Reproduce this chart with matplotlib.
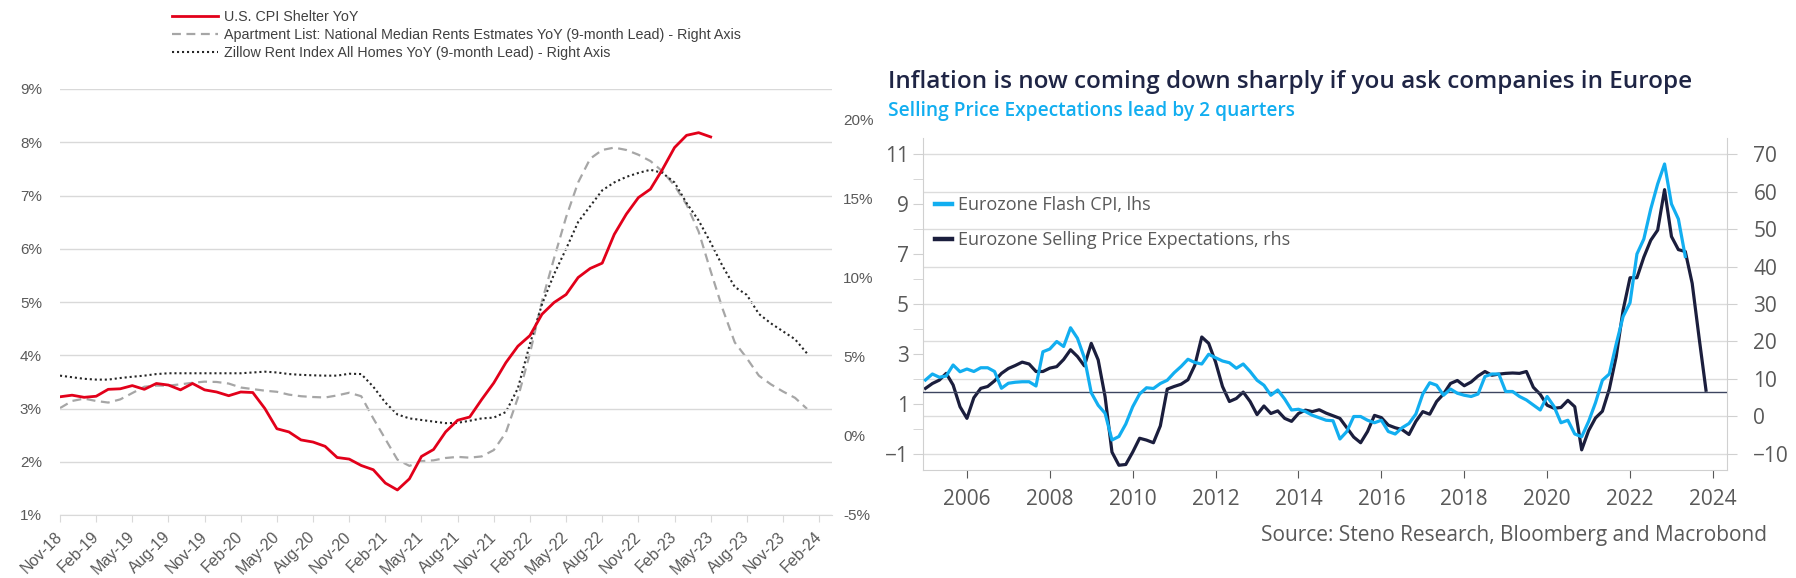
import matplotlib.pyplot as plt
import matplotlib.ticker as mticker
import numpy as np
import pandas as pd

# ---------------- left panel: US shelter CPI vs rent indices (monthly from Nov-18)
cpi_shelter = [3.22, 3.25, 3.21, 3.23, 3.36, 3.37, 3.43, 3.36, 3.47, 3.44, 3.35, 3.47,
               3.35, 3.31, 3.24, 3.31, 3.30, 3.00, 2.62, 2.56, 2.41, 2.37, 2.29, 2.08,
               2.05, 1.93, 1.85, 1.60, 1.47, 1.68, 2.10, 2.23, 2.56, 2.78, 2.84, 3.17,
               3.48, 3.86, 4.17, 4.37, 4.77, 4.99, 5.14, 5.46, 5.63, 5.73, 6.27, 6.65,
               6.96, 7.12, 7.49, 7.90, 8.13, 8.18, 8.10]
apartment_list = [1.75, 2.2, 2.35, 2.2, 2.1, 2.3, 2.7, 3.1, 3.17, 3.17, 3.25, 3.35,
                  3.42, 3.4, 3.3, 3.05, 2.95, 2.85, 2.78, 2.6, 2.5, 2.45, 2.42, 2.55,
                  2.72, 2.5, 1.1, -0.2, -1.5, -1.9, -1.6, -1.55, -1.4, -1.33, -1.38, -1.3,
                  -0.9, 0.2, 2.4, 5.2, 8.5, 11.2, 13.8, 16.0, 17.5, 18.05, 18.2, 18.05,
                  17.75, 17.35, 16.7, 15.8, 14.6, 12.9, 10.4, 8.0, 5.9, 4.9, 3.8, 3.25,
                  2.8, 2.4, 1.7]
zillow = [3.8, 3.7, 3.6, 3.55, 3.55, 3.65, 3.73, 3.8, 3.9, 3.95, 3.95, 3.95,
          3.95, 3.95, 3.95, 3.95, 4.0, 4.05, 4.0, 3.9, 3.85, 3.82, 3.8, 3.8,
          3.92, 3.9, 3.1, 2.1, 1.35, 1.1, 1.0, 0.9, 0.8, 0.82, 0.95, 1.1,
          1.15, 1.5, 3.0, 5.8, 8.3, 10.2, 11.8, 13.5, 14.5, 15.5, 16.0, 16.35,
          16.6, 16.8, 16.6, 16.0, 14.7, 13.6, 12.2, 10.7, 9.4, 8.9, 7.7, 7.1,
          6.6, 6.1, 5.2]
month_labels = pd.date_range("2018-11-01", "2024-02-01", freq="3MS").strftime("%b-%y")
left_pct_ticks = np.arange(1, 10)
right_pct_ticks = np.arange(-5, 21, 5)

# ---------------- right panel: Eurozone (bi-monthly from Jan 2005)
ez_cpi = [1.96, 2.2, 2.07, 2.12, 2.56, 2.29,
          2.4, 2.3, 2.45, 2.45, 2.3, 1.63,
          1.83, 1.87, 1.89, 1.89, 1.72, 3.09,
          3.2, 3.5, 3.3, 4.05, 3.63, 2.85,
          1.45, 0.95, 0.63, -0.44, -0.3, 0.2,
          0.89, 1.4, 1.65, 1.62, 1.82, 1.95,
          2.25, 2.5, 2.79, 2.66, 2.6, 2.99,
          2.85, 2.72, 2.65, 2.43, 2.6, 2.3,
          1.95, 1.75, 1.35, 1.56, 1.2, 0.76,
          0.79, 0.7, 0.55, 0.45, 0.35, 0.33,
          -0.4, -0.1, 0.5, 0.5, 0.35, 0.25,
          0.35, -0.1, -0.2, 0.05, 0.22, 0.6,
          1.4, 1.85, 1.75, 1.35, 1.6, 1.43,
          1.35, 1.3, 1.4, 2.1, 2.2, 2.2,
          1.5, 1.5, 1.3, 1.16, 0.96, 0.76,
          1.3, 0.9, 0.25, 0.35, -0.2, -0.31,
          0.3, 1.05, 1.95, 2.2, 3.4, 4.5,
          5.05, 7.0, 7.6, 8.8, 9.8, 10.6,
          9.0, 8.4, 6.9]
ez_spe = [7.5, 8.8, 9.7, 11.5, 8.4, 2.6,
          -0.5, 5.0, 7.5, 8.0, 9.5, 11.5,
          12.8, 13.6, 14.5, 14.0, 12.0, 12.0,
          12.9, 13.3, 15.2, 17.8, 16.0, 13.5,
          19.5, 15.1, 5.3, -9.5, -13.0, -12.8,
          -9.5, -5.8, -6.3, -7.0, -2.5, 7.3,
          8.0, 8.6, 9.8, 13.7, 21.2, 19.5,
          14.5, 8.0, 4.0, 4.8, 6.5, 4.0,
          0.5, 2.8, 0.8, 1.5, -0.5, -1.3,
          0.8, 1.7, 1.3, 1.8, 0.9, 0.2,
          -0.5, -3.0, -5.5, -7.0, -4.0, 0.3,
          -0.3, -2.3, -3.0, -3.5, -4.8, -1.3,
          1.3, 0.6, 4.0, 6.0, 8.8, 9.6,
          8.2, 9.2, 10.8, 12.0, 11.0, 11.3,
          11.5, 11.6, 11.5, 12.0, 7.8, 5.9,
          3.0, 2.2, 2.4, 4.3, 2.6, -8.9,
          -3.8, -0.4, 1.4, 7.3, 16.0, 28.4,
          37.0, 37.0, 42.5, 47.0, 49.7, 60.5,
          48.0, 44.5, 44.0, 35.5, 21.0, 7.0]
ref_level = 1.49  # horizontal reference line, lhs units
year_ticks = np.arange(2006, 2025, 2)

W, H = 1796, 578
fig = plt.figure(figsize=(W / 100, H / 100), dpi=100, facecolor="white")

narrow = ["Liberation Sans Narrow", "Liberation Sans", "DejaVu Sans"]
grey_txt = "#595959"

# ================= left chart =================
axl_r = fig.add_axes([60 / W, 1 - 515 / H, 772 / W, 426 / H])
axl = axl_r.twinx()
axl.yaxis.tick_left()
axl_r.yaxis.tick_right()

m_long = np.arange(len(zillow))
m_red = np.arange(len(cpi_shelter))
ln_apt, = axl_r.plot(m_long, apartment_list, color="#a6a6a6", lw=1.6,
                     dashes=(4, 2.5), label="Apartment List: National Median Rents Estmates YoY (9-month Lead) - Right Axis")
ln_zil, = axl_r.plot(m_long, zillow, color="#262626", lw=1.5, dashes=(1, 1.4),
                     label="Zillow Rent Index All Homes YoY (9-month Lead) - Right Axis")
ln_red, = axl.plot(m_red, cpi_shelter, color="#e2001a", lw=2.0, label="U.S. CPI Shelter YoY")

axl_r.set_xlim(0, 64.07)
axl.set_ylim(1, 9)
axl_r.set_ylim(-5, 21.9)
axl.set_yticks(left_pct_ticks)
axl.yaxis.set_major_formatter(mticker.FuncFormatter(lambda v, p: f"{v:.0f}%"))
axl_r.set_yticks(right_pct_ticks)
axl_r.yaxis.set_major_formatter(mticker.FuncFormatter(lambda v, p: f"{v:.0f}%"))
axl.grid(axis="y", color="#d9d9d9", lw=1)
axl.set_axisbelow(True)

axl_r.set_xticks(np.arange(0, 64, 3))
axl_r.set_xticklabels(month_labels, rotation=45, ha="right", va="center",
                      rotation_mode="anchor", family=narrow, fontsize=11.5, color=grey_txt)
axl_r.tick_params(axis="x", length=5, color="#d9d9d9", pad=9)
axl.tick_params(axis="y", length=0, pad=13, labelcolor=grey_txt)
axl_r.tick_params(axis="y", length=0, pad=8, labelcolor=grey_txt)
for lab in axl.get_yticklabels() + axl_r.get_yticklabels():
    lab.set_family(narrow)
    lab.set_fontsize(11)
for a in (axl, axl_r):
    for s in a.spines.values():
        s.set_visible(False)
axl_r.spines["bottom"].set_visible(True)
axl_r.spines["bottom"].set_color("#d9d9d9")

fig.legend(handles=[ln_red, ln_apt, ln_zil], loc="upper left",
           bbox_to_anchor=(172 / W, 1 - 10 / H), frameon=False, borderpad=0,
           borderaxespad=0, handlelength=3.2, handletextpad=0.45, labelspacing=0.28,
           prop={"family": narrow, "size": 10.3}, labelcolor="#404040")

# ================= right chart =================
sans = ["Open Sans", "DejaVu Sans"]
axr_r = fig.add_axes([923 / W, 1 - 470 / H, 804 / W, 332 / H])
axr = axr_r.twinx()
axr.yaxis.tick_left()
axr_r.yaxis.tick_right()

t_cpi = 2005 + np.arange(len(ez_cpi)) / 6
t_spe = 2005 + np.arange(len(ez_spe)) / 6
ln_spe, = axr_r.plot(t_spe, ez_spe, color="#1b1e3d", lw=2.3,
                     label="Eurozone Selling Price Expectations, rhs")
axr.axhline(ref_level, color="#3d4560", lw=1.0, zorder=1)
ln_cpi, = axr.plot(t_cpi, ez_cpi, color="#12aef0", lw=2.3, label="Eurozone Flash CPI, lhs")

axr_r.set_xlim(2004.94, 2024.34)
axr_r.set_ylim(-14.27, 74.27)
axr.set_ylim(-1.64, 11.64)
axr_r.set_yticks(np.arange(-10, 71, 10))
axr.set_yticks(np.arange(-1, 12, 2))
axr.set_yticks(np.arange(0, 11, 2), minor=True)
axr_r.set_xticks(year_ticks)
axr_r.grid(axis="y", color="#dcdcdc", lw=1)
axr_r.set_axisbelow(True)

axr_r.tick_params(axis="x", length=6, color="#595959", pad=8, labelsize=15, labelcolor=grey_txt)
axr_r.tick_params(axis="y", length=7, color="#d0d0d0", pad=12, labelsize=15, labelcolor=grey_txt)
axr.tick_params(axis="y", which="both", length=7, color="#d0d0d0", pad=3,
                labelsize=15, labelcolor=grey_txt)
for lab in axr_r.get_xticklabels() + axr_r.get_yticklabels() + axr.get_yticklabels():
    lab.set_family(sans)
for s in axr.spines.values():
    s.set_visible(False)
axr_r.spines["top"].set_visible(False)
for k in ("left", "right", "bottom"):
    axr_r.spines[k].set_color("#d0d0d0")

leg = fig.legend(handles=[ln_cpi, ln_spe], loc="upper left", bbox_to_anchor=(935 / W, 1 - 196 / H),
                 frameon=False, borderpad=0, borderaxespad=0, handlelength=0.95,
                 handletextpad=0.3, labelspacing=0.95, prop={"family": sans, "size": 13},
                 labelcolor=grey_txt)
for hl in leg.get_lines():
    hl.set_linewidth(3.2)

fig.text(888 / W, 1 - 82 / H, "Inflation is now coming down sharply if you ask companies in Europe",
         family=sans, fontsize=17.5, fontweight="semibold", color="#1f2545", va="center")
fig.text(888 / W, 1 - 111 / H, "Selling Price Expectations lead by 2 quarters",
         family=sans, fontsize=13.8, fontweight="semibold", color="#12aef0", va="center")
fig.text(1767 / W, 1 - 536 / H, "Source: Steno Research, Bloomberg and Macrobond",
         family=sans, fontsize=15, color=grey_txt, ha="right", va="center")

fig.savefig("out.png", dpi=100)
